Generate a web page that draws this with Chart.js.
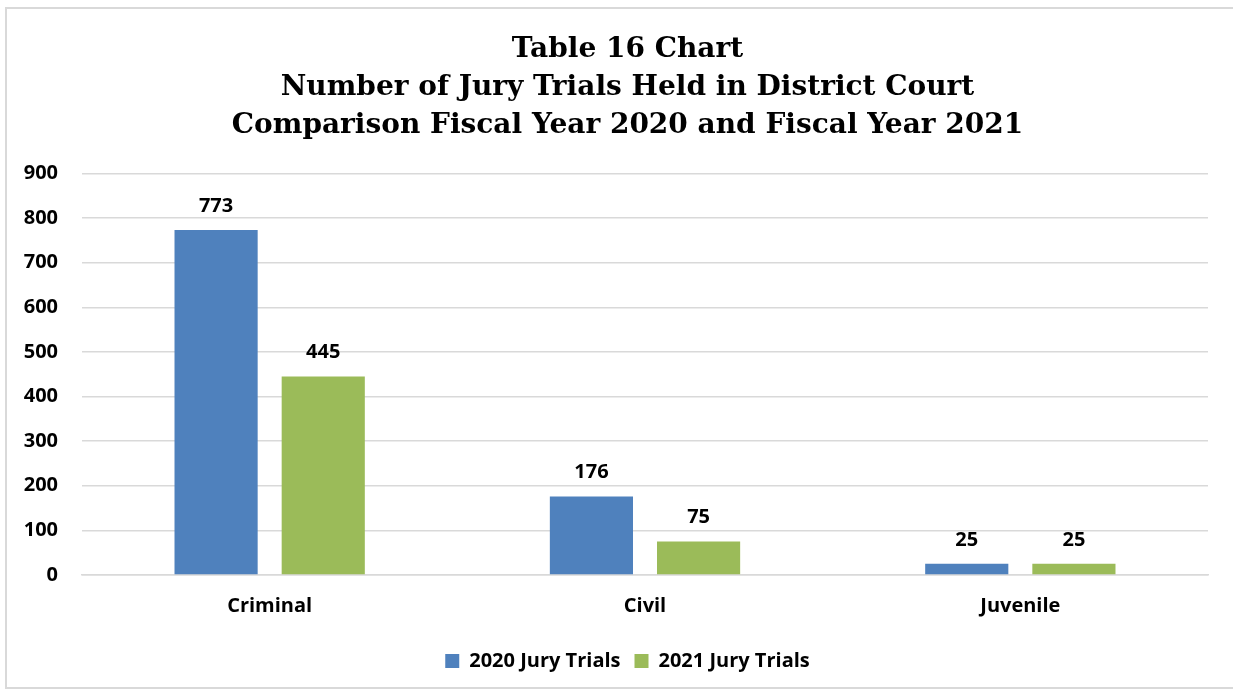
<!DOCTYPE html>
<html>
<head>
<meta charset="utf-8">
<script src="https://cdn.jsdelivr.net/npm/chart.js@4/dist/chart.umd.min.js"></script>
<style>
html, body { margin: 0; padding: 0; background: #fff; }
#frame { position: absolute; left: 5px; top: 7px; width: 1240px; height: 682px; border: 2px solid #d9d9d9; box-sizing: border-box; }
#wrap { position: absolute; left: 0; top: 0; width: 1233px; height: 692px; }
</style>
</head>
<body>
<div id="frame"></div>
<div id="wrap"><canvas id="chart"></canvas></div>
<script>
var CATEGORIES = ['Criminal', 'Civil', 'Juvenile'];
var TRIALS_2020 = [773, 176, 25];
var TRIALS_2021 = [445, 75, 25];
var SERIES_NAMES = ['2020 Jury Trials', '2021 Jury Trials'];
var TITLE_LINES = ['Table 16 Chart', 'Number of Jury Trials Held in District Court', 'Comparison Fiscal Year 2020 and Fiscal Year 2021'];

var LABEL_FONT = '"Open Sans", Lato, sans-serif';

// value labels above each bar
var barValues = {
    id: 'barValues',
    afterDatasetsDraw: function(chart) {
        var ctx = chart.ctx;
        ctx.save();
        ctx.font = 'bold 20px ' + LABEL_FONT;
        ctx.fillStyle = '#000';
        ctx.textAlign = 'center';
        ctx.textBaseline = 'middle';
        chart.data.datasets.forEach(function(ds, i) {
            chart.getDatasetMeta(i).data.forEach(function(bar, j) {
                ctx.fillText(ds.data[j], bar.x, bar.y - 24);
            });
        });
        ctx.restore();
    }
};

new Chart(document.getElementById('chart'), {
    type: 'bar',
    data: {
        labels: CATEGORIES,
        datasets: [
            { label: SERIES_NAMES[0], data: TRIALS_2020, backgroundColor: '#4f81bd' },
            { label: SERIES_NAMES[1], data: TRIALS_2021, backgroundColor: '#9bbb59' }
        ]
    },
    options: {
        responsive: true,
        maintainAspectRatio: false,
        animation: false,
        datasets: { bar: { categoryPercentage: 0.571, barPercentage: 0.776 } },
        layout: { padding: { left: 22, right: 0, top: 31, bottom: 11 } },
        scales: {
            x: {
                grid: { display: false, drawTicks: false },
                border: { color: '#d9d9d9', width: 1.5 },
                ticks: { color: '#000', font: { family: LABEL_FONT, size: 20, weight: 'bold' }, padding: 19 }
            },
            y: {
                min: 0, max: 900,
                afterFit: function(scale) { scale.width = 60; },
                ticks: { stepSize: 100, color: '#000', font: { family: LABEL_FONT, size: 20, weight: 'bold' }, padding: 24 },
                grid: { color: '#d9d9d9', lineWidth: 1.5, drawTicks: false },
                border: { display: false }
            },
            // empty right margin so the title and legend sit where they do in the original
            spacer: {
                type: 'linear',
                position: 'right',
                afterFit: function(scale) { scale.width = 25; },
                ticks: { display: false },
                grid: { display: false, drawTicks: false },
                border: { display: false }
            }
        },
        plugins: {
            title: {
                display: true,
                text: TITLE_LINES,
                color: '#000',
                font: { family: '"DejaVu Serif", serif', size: 28, weight: 'bold', lineHeight: 1.35 },
                padding: { top: 0, bottom: 29 }
            },
            legend: {
                position: 'bottom',
                labels: { color: '#000', boxWidth: 14, boxHeight: 14, padding: 14, font: { family: LABEL_FONT, size: 20, weight: 'bold' } }
            },
            tooltip: { enabled: false }
        }
    },
    plugins: [barValues]
});
</script>
</body>
</html>
